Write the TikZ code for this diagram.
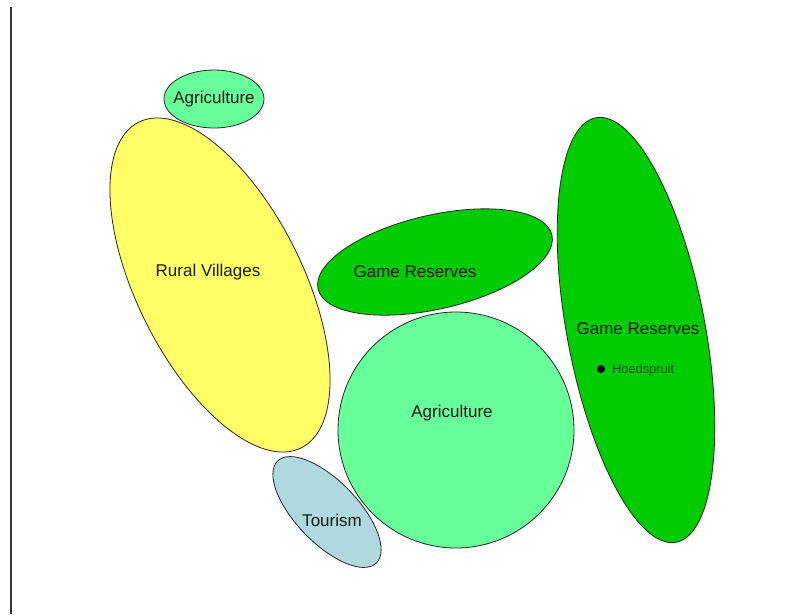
\documentclass[tikz,border=0pt]{standalone}
\usepackage{fontspec}
\setmainfont{Liberation Sans}
\begin{document}
\begin{tikzpicture}[x=1pt,y=-1pt,
  region/.style={draw=black!85, line width=0.8pt},
  lbl/.style={font=\fontsize{17}{19}\selectfont, text=black!90, inner sep=0pt},
  small/.style={font=\fontsize{12.8}{14}\selectfont, text=hoedc, inner sep=0pt, anchor=west}]
\definecolor{lgreen}{HTML}{66FF99}
\definecolor{dgreen}{HTML}{00CC00}
\definecolor{yel}{HTML}{FFFF66}
\definecolor{lblue}{HTML}{B0D8DF}
\definecolor{hoedc}{HTML}{1F4A1F}
\fill[white] (0,0) rectangle (790,614);
\useasboundingbox (0,0) rectangle (790,614);
\draw[black!80, line width=2pt] (11,7) -- (11,614);
% shapes
\draw[region, fill=lgreen] (214,99) ellipse [x radius=50, y radius=29];
\draw[region, fill=yel, rotate around={-63.5:(220,285)}] (220,285) ellipse [x radius=182, y radius=83];
\draw[region, fill=lgreen] (456,430) circle [radius=118];
\draw[region, fill=dgreen, rotate around={13:(435,262)}] (435,262) ellipse [x radius=120, y radius=47];
\draw[region, fill=dgreen, rotate around={-79.3:(636,330)}] (636,330) ellipse [x radius=216, y radius=69];
\draw[region, fill=lblue, rotate around={-46:(327,512)}] (327,512) ellipse [x radius=71, y radius=31];
% labels
\node[lbl] (agsmall) at (214,99) {Agriculture};
\node[lbl] (rural) at (208,272) {Rural Villages};
\node[lbl] (grmid) at (415,272) {Game Reserves};
\node[lbl] (agbig) at (452,413) {Agriculture};
\node[lbl] (grright) at (638,329) {Game Reserves};
\node[lbl] (tour) at (332,520) {Tourism};
\fill[black] (601,369) circle [radius=4];
\node[small] (hoed) at (612,370) {Hoedspruit};
\end{tikzpicture}
\end{document}
